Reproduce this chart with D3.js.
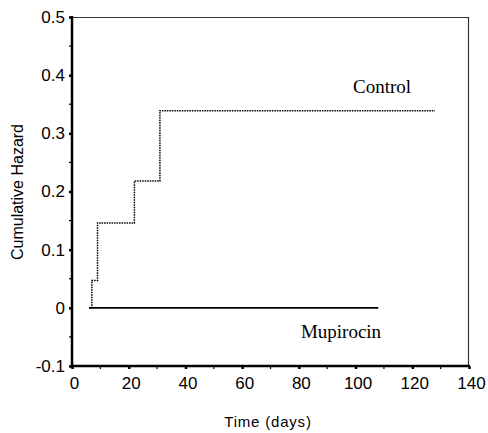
<!DOCTYPE html>
<html><head><meta charset="utf-8">
<script src="https://cdn.jsdelivr.net/npm/d3@7"></script>
<style>body{margin:0;background:#fff}svg{display:block}</style>
</head><body>
<svg id="c" width="488" height="433"></svg>
<script>
const xTicks = [0, 20, 40, 60, 80, 100, 120, 140];
const yTicks = [-0.1, 0, 0.1, 0.2, 0.3, 0.4, 0.5];
const yTickLabels = ["-0.1", "0", "0.1", "0.2", "0.3", "0.4", "0.5"];
const controlTime = [6, 7, 9, 22, 31, 128];
const controlHazard = [0, 0.047, 0.146, 0.218, 0.339, 0.339];
const mupirocinTime = [6, 108];
const mupirocinHazard = [0, 0];
const seriesLabels = ["Control", "Mupirocin"];

const svg = d3.select("#c");
const L = 72, R = 469, T = 17, B = 366;
const x = d3.scaleLinear().domain([0, 140]).range([L, R]);
const y = d3.scaleLinear().domain([-0.1, 0.5]).range([B, T]);

// frame (top & right thin)
svg.append("line").attr("x1", L).attr("x2", R).attr("y1", T + 0.5).attr("y2", T + 0.5).attr("stroke", "#333").attr("stroke-width", 1.2);
svg.append("line").attr("x1", R - 0.5).attr("x2", R - 0.5).attr("y1", T).attr("y2", B).attr("stroke", "#333").attr("stroke-width", 1.2);

// x axis
const xa = svg.append("g").attr("transform", `translate(0,${B})`)
  .call(d3.axisBottom(x).tickValues(xTicks).tickSize(3).tickPadding(8).tickFormat(d3.format("d")));
xa.select(".domain").remove();
xa.selectAll(".tick line").attr("stroke", "#000").attr("stroke-width", 2.5);
xa.selectAll(".tick text").attr("font-family", "Liberation Sans, Arial, sans-serif").attr("font-size", 17).attr("fill", "#000").attr("dx", 2);
// x minor
svg.append("g").selectAll("line").data(d3.range(10, 140, 20)).join("line")
  .attr("x1", d => x(d)).attr("x2", d => x(d)).attr("y1", B).attr("y2", B + 3).attr("stroke", "#000").attr("stroke-width", 1.2);

// y axis
const ya = svg.append("g").attr("transform", `translate(${L},0)`)
  .call(d3.axisLeft(y).tickValues(yTicks).tickSize(3).tickPadding(4).tickFormat((d, i) => yTickLabels[i]));
ya.select(".domain").remove();
ya.selectAll(".tick line").attr("stroke", "#000").attr("stroke-width", 2.5);
ya.selectAll(".tick text").attr("font-family", "Liberation Sans, Arial, sans-serif").attr("font-size", 17).attr("fill", "#000");
// y minor
svg.append("g").selectAll("line").data(d3.range(-0.05, 0.5, 0.1)).join("line")
  .attr("x1", L - 3).attr("x2", L).attr("y1", d => y(d)).attr("y2", d => y(d)).attr("stroke", "#000").attr("stroke-width", 1.2);

// axis lines thick
svg.append("line").attr("x1", L).attr("x2", L).attr("y1", T - 1).attr("y2", B + 1).attr("stroke", "#000").attr("stroke-width", 2.5);
svg.append("line").attr("x1", L - 1).attr("x2", R + 1).attr("y1", B).attr("y2", B).attr("stroke", "#000").attr("stroke-width", 2.5);

const line = d3.line().x(d => x(d[0])).y(d => y(d[1])).curve(d3.curveStepAfter);
svg.append("path").datum(controlTime.map((t, i) => [t, controlHazard[i]]))
  .attr("d", line).attr("fill", "none").attr("stroke", "#000").attr("stroke-width", 1.5).attr("stroke-dasharray", "1.5,1");
svg.append("path").datum(mupirocinTime.map((t, i) => [t, mupirocinHazard[i]]))
  .attr("d", line).attr("fill", "none").attr("stroke", "#000").attr("stroke-width", 1.6);

svg.append("text").attr("x", 382).attr("y", 93).attr("text-anchor", "middle")
  .attr("font-family", "Liberation Serif, Times New Roman, serif").attr("font-size", 19).text(seriesLabels[0]);
svg.append("text").attr("x", 341).attr("y", 338).attr("text-anchor", "middle")
  .attr("font-family", "Liberation Serif, Times New Roman, serif").attr("font-size", 19).text(seriesLabels[1]);

svg.append("text").attr("x", 268).attr("y", 427).attr("text-anchor", "middle")
  .attr("font-family", "Liberation Sans, Arial, sans-serif").attr("font-size", 15).attr("letter-spacing", 0.8).text("Time (days)");
svg.append("text").attr("transform", "translate(23,192) rotate(-90)").attr("text-anchor", "middle")
  .attr("font-family", "Liberation Sans, Arial, sans-serif").attr("font-size", 16).text("Cumulative Hazard");
</script>
</body></html>
